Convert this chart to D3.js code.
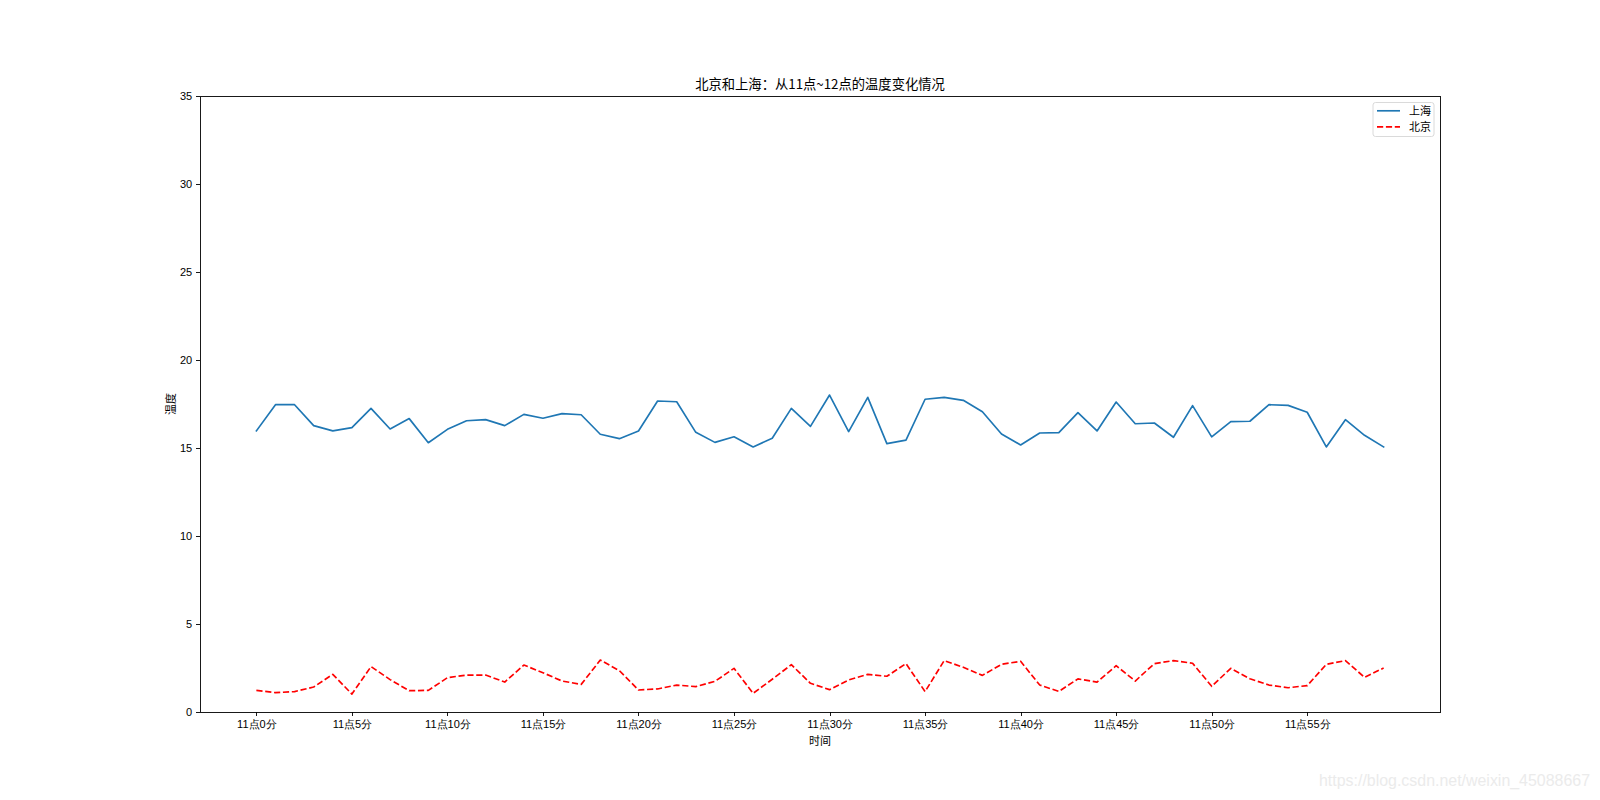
<!DOCTYPE html>
<html>
<head>
<meta charset="utf-8">
<script src="https://cdn.jsdelivr.net/npm/d3@7"></script>
<style>
  html, body { margin: 0; padding: 0; background: #fff; }
  svg { display: block; font-family: "Noto Sans CJK SC", "DejaVu Sans", sans-serif; }
  .axis path, .axis line { stroke: #000; stroke-width: 0.9; shape-rendering: crispEdges; }
  .axis text { fill: #000; font-size: 11px; }
</style>
</head>
<body>
<div id="chart"></div>
<script>
// Temperature 11:00 - 11:59, Shanghai vs Beijing
const minutes = d3.range(0, 60);
const shanghai = [
  15.97, 17.46, 17.46, 16.27, 15.97, 16.16, 17.25, 16.08, 16.67, 15.30,
  16.06, 16.55, 16.61, 16.27, 16.91, 16.69, 16.95, 16.89, 15.78, 15.53,
  15.97, 17.67, 17.63, 15.89, 15.32, 15.64, 15.06, 15.55, 17.25, 16.23,
  18.01, 15.93, 17.88, 15.25, 15.45, 17.77, 17.88, 17.71, 17.06, 15.80,
  15.17, 15.85, 15.87, 17.01, 15.97, 17.61, 16.38, 16.42, 15.61, 17.41,
  15.63, 16.50, 16.52, 17.46, 17.42, 17.03, 15.06, 16.61, 15.72, 15.06
];
const beijing = [
  1.23, 1.10, 1.16, 1.42, 2.14, 1.02, 2.58, 1.84, 1.21, 1.23,
  1.95, 2.10, 2.10, 1.70, 2.67, 2.23, 1.76, 1.57, 2.95, 2.35,
  1.25, 1.31, 1.53, 1.44, 1.74, 2.48, 1.06, 1.86, 2.69, 1.63,
  1.27, 1.82, 2.14, 2.03, 2.75, 1.16, 2.92, 2.54, 2.08, 2.71,
  2.88, 1.53, 1.17, 1.88, 1.70, 2.63, 1.76, 2.75, 2.92, 2.77,
  1.46, 2.48, 1.89, 1.53, 1.38, 1.50, 2.71, 2.92, 1.97, 2.50
];
const xTicks = d3.range(0, 60, 5);
const xTickLabels = xTicks.map(m => `11点${m}分`);
const yTicks = [0, 5, 10, 15, 20, 25, 30, 35];
const seriesNames = ["上海", "北京"];
const seriesColors = ["#1f77b4", "#ff0000"];

const width = 1600, height = 800;
const margin = { top: 96, right: 160, bottom: 88, left: 200 };

const svg = d3.select("#chart").append("svg")
  .attr("width", width).attr("height", height).attr("viewBox", `0 0 ${width} ${height}`);

// matplotlib-style 5% x margins
const xPad = (d3.max(minutes) - d3.min(minutes)) * 0.05;
const x = d3.scaleLinear().domain([d3.min(minutes) - xPad, d3.max(minutes) + xPad])
  .range([margin.left, width - margin.right]);
const y = d3.scaleLinear().domain([0, 35]).range([height - margin.bottom, margin.top]);

const lineGen = vals => d3.line().x((d, i) => x(minutes[i])).y(d => y(d))(vals);

svg.append("path").attr("d", lineGen(shanghai))
  .attr("fill", "none").attr("stroke", seriesColors[0]).attr("stroke-width", 1.67)
  .attr("stroke-linejoin", "round").attr("stroke-linecap", "square");
svg.append("path").attr("d", lineGen(beijing))
  .attr("fill", "none").attr("stroke", seriesColors[1]).attr("stroke-width", 1.67)
  .attr("stroke-dasharray", "6.2,2.7").attr("stroke-linejoin", "round");

// axes box
svg.append("rect")
  .attr("x", margin.left).attr("y", margin.top)
  .attr("width", width - margin.left - margin.right)
  .attr("height", height - margin.top - margin.bottom)
  .attr("fill", "none").attr("stroke", "#000").attr("stroke-width", 0.9)
  .attr("shape-rendering", "crispEdges");

const gx = svg.append("g").attr("class", "axis")
  .attr("transform", `translate(0,${height - margin.bottom})`)
  .call(d3.axisBottom(x).tickValues(xTicks).tickFormat((d, i) => xTickLabels[i])
    .tickSizeInner(3.9).tickSizeOuter(0).tickPadding(3.9));
gx.select(".domain").remove();

const gy = svg.append("g").attr("class", "axis")
  .attr("transform", `translate(${margin.left},0)`)
  .call(d3.axisLeft(y).tickValues(yTicks).tickSizeInner(3.9).tickSizeOuter(0).tickPadding(3.9));
gy.select(".domain").remove();

// title and axis labels
svg.append("text").attr("x", (margin.left + width - margin.right) / 2).attr("y", margin.top - 6.7)
  .attr("text-anchor", "middle").attr("font-size", 13.3).attr("fill", "#000")
  .text("北京和上海：从11点~12点的温度变化情况");
svg.append("text").attr("x", (margin.left + width - margin.right) / 2).attr("y", 745)
  .attr("text-anchor", "middle").attr("font-size", 11).attr("fill", "#000").text("时间");
svg.append("text")
  .attr("transform", `translate(175,${(margin.top + height - margin.bottom) / 2}) rotate(-90)`)
  .attr("text-anchor", "middle").attr("font-size", 11).attr("fill", "#000").text("温度");

// legend
const lg = svg.append("g").attr("transform", "translate(1373,102.5)");
lg.append("rect").attr("width", 61).attr("height", 34).attr("rx", 2.5)
  .attr("fill", "#fff").attr("stroke", "#d6d6d6").attr("stroke-width", 0.9);
seriesNames.forEach((name, i) => {
  const yy = 8.3 + i * 16;
  lg.append("line").attr("x1", 4).attr("x2", 27).attr("y1", yy).attr("y2", yy)
    .attr("stroke", seriesColors[i]).attr("stroke-width", 1.67)
    .attr("stroke-dasharray", i === 1 ? "6.2,2.7" : null);
  lg.append("text").attr("x", 36).attr("y", yy).attr("dy", "0.36em")
    .attr("font-size", 11).attr("fill", "#000").text(name);
});

// watermark
svg.append("text").attr("x", 1319).attr("y", 786)
  .attr("font-family", "'Liberation Sans', Arial, sans-serif").attr("font-size", 16)
  .attr("textLength", 271).attr("lengthAdjust", "spacingAndGlyphs")
  .attr("fill", "#ebebeb").text("https://blog.csdn.net/weixin_45088667");
</script>
</body>
</html>
